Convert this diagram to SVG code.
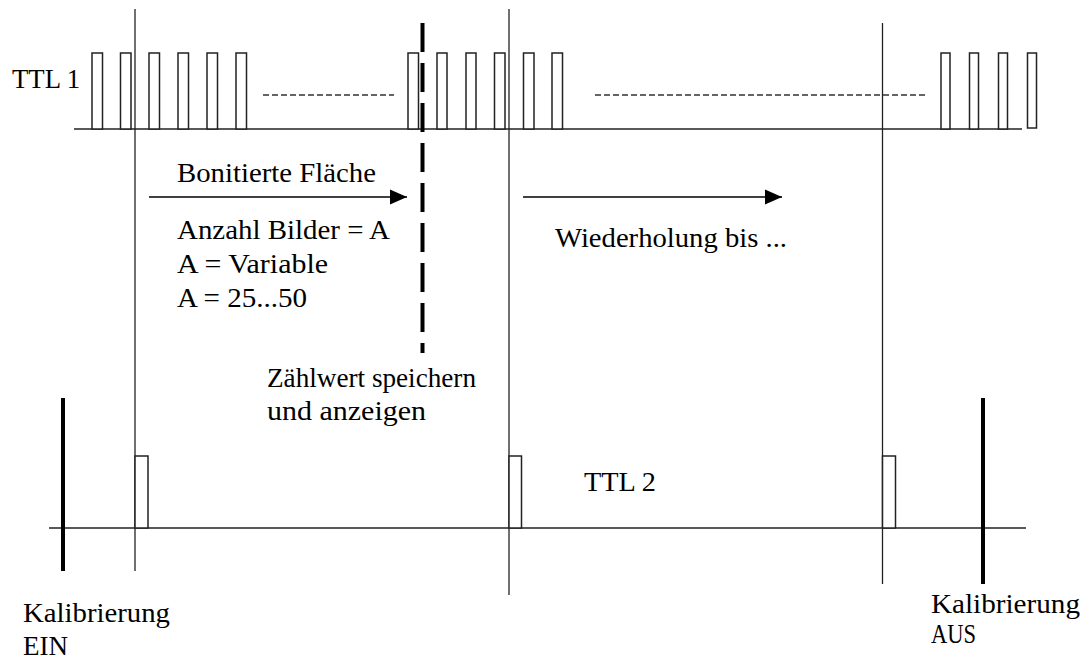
<svg xmlns="http://www.w3.org/2000/svg" width="1081" height="660" viewBox="0 0 1081 660">
<style>
.t{font-family:"Liberation Serif","DejaVu Serif","Times New Roman",serif;font-size:27px;fill:#000}
.thin{stroke:#222;stroke-width:1.3;fill:none}
.pulse{stroke:#222;stroke-width:1.5;fill:#fff}
.thick{stroke:#000;stroke-width:4;fill:none}
.dash{stroke:#333;stroke-width:1.3;stroke-dasharray:6 3;fill:none}
.arrow{stroke:#000;stroke-width:1.5;fill:none;marker-end:url(#ah)}
</style>
<defs>
<marker id="ah" markerUnits="userSpaceOnUse" markerWidth="20" markerHeight="16" refX="19" refY="8" orient="auto">
<path d="M2,0.5 L19,8 L2,15.5 Z" fill="#000"/>
</marker>
</defs>
<rect width="1081" height="660" fill="#fff"/>
<g id="connectors">
<line class="thin" x1="135" y1="9" x2="135" y2="571"/>
<line class="thin" x1="509" y1="9" x2="509" y2="595"/>
<line class="thin" x1="882.5" y1="23" x2="882.5" y2="584"/>
<line class="thin" x1="74" y1="129" x2="1022" y2="129"/>
<line class="thin" x1="49" y1="528" x2="1026" y2="528"/>
<line class="dash" x1="263" y1="95" x2="394" y2="95"/>
<line class="dash" x1="595" y1="95" x2="927" y2="95"/>
<line class="arrow" x1="149" y1="197" x2="407" y2="197"/>
<line class="arrow" x1="523" y1="197" x2="782" y2="197"/>
</g>
<g id="ttl1-pulses">
<rect class="pulse" x="92" y="53" width="10.5" height="76"/>
<rect class="pulse" x="120.5" y="53" width="10.5" height="76"/>
<rect class="pulse" x="149" y="53" width="10.5" height="76"/>
<rect class="pulse" x="178" y="53" width="10.5" height="76"/>
<rect class="pulse" x="207" y="53" width="10.5" height="76"/>
<rect class="pulse" x="236" y="53" width="10.5" height="76"/>
<rect class="pulse" x="408" y="53" width="10.5" height="76"/>
<rect class="pulse" x="437" y="53" width="10" height="76"/>
<rect class="pulse" x="466" y="53" width="10" height="76"/>
<rect class="pulse" x="494.5" y="53" width="10.5" height="76"/>
<rect class="pulse" x="523.5" y="53" width="10.5" height="76"/>
<rect class="pulse" x="552" y="53" width="10.5" height="76"/>
<rect class="pulse" x="941" y="53" width="9" height="76"/>
<rect class="pulse" x="969.5" y="53" width="9" height="76"/>
<rect class="pulse" x="998.5" y="53" width="9" height="76"/>
<rect class="pulse" x="1027.5" y="53" width="9" height="75"/>
</g>
<g id="ttl2-pulses">
<rect class="pulse" x="135" y="456" width="13" height="72"/>
<rect class="pulse" x="509" y="456" width="12.5" height="72"/>
<rect class="pulse" x="882.5" y="456" width="13" height="72"/>
</g>
<g id="marker-save">
<line class="thick" x1="422.5" y1="23" x2="422.5" y2="353" stroke-dasharray="29 11"/>
</g>
<g id="kalibrierung-ein">
<line class="thick" x1="63" y1="398" x2="63" y2="571"/>
<text class="t" x="23" y="622" textLength="147" lengthAdjust="spacingAndGlyphs">Kalibrierung</text>
<text class="t" x="23" y="655" textLength="45" lengthAdjust="spacingAndGlyphs">EIN</text>
</g>
<g id="kalibrierung-aus">
<line class="thick" x1="983" y1="398" x2="983" y2="584"/>
<text class="t" x="931" y="613" textLength="149" lengthAdjust="spacingAndGlyphs">Kalibrierung</text>
<text class="t" x="931" y="643" textLength="45" lengthAdjust="spacingAndGlyphs">AUS</text>
</g>
<g id="labels">
<text class="t" x="12" y="88" textLength="68" lengthAdjust="spacingAndGlyphs">TTL 1</text>
<text class="t" x="177" y="182" textLength="199" lengthAdjust="spacingAndGlyphs">Bonitierte Fläche</text>
<text class="t" x="177" y="239" textLength="213" lengthAdjust="spacingAndGlyphs">Anzahl Bilder = A</text>
<text class="t" x="177" y="273" textLength="151" lengthAdjust="spacingAndGlyphs">A = Variable</text>
<text class="t" x="177" y="307" textLength="130" lengthAdjust="spacingAndGlyphs">A = 25...50</text>
<text class="t" x="555" y="247" textLength="232" lengthAdjust="spacingAndGlyphs">Wiederholung bis ...</text>
<text class="t" x="267" y="387" textLength="209" lengthAdjust="spacingAndGlyphs">Zählwert speichern</text>
<text class="t" x="267" y="420" textLength="159" lengthAdjust="spacingAndGlyphs">und anzeigen</text>
<text class="t" x="584" y="491" textLength="72" lengthAdjust="spacingAndGlyphs">TTL 2</text>
</g>
</svg>
